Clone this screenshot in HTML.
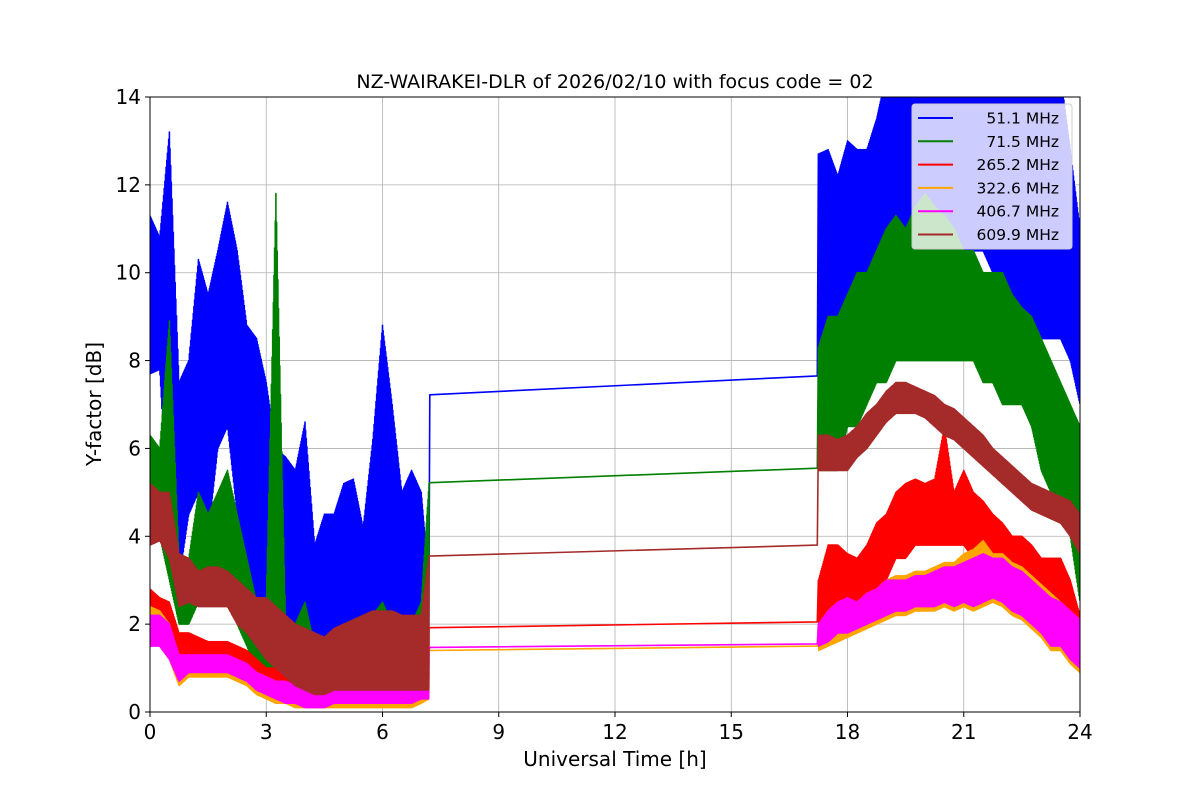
<!DOCTYPE html>
<html><head><meta charset="utf-8"><style>
body{margin:0;background:#fff;}
svg text{font-family:"DejaVu Sans","Liberation Sans",sans-serif;fill:#000;}
</style></head><body>
<svg id="chart" width="1200" height="800" viewBox="0 0 1200 800" xmlns="http://www.w3.org/2000/svg">
<defs><clipPath id="clip"><rect x="150" y="97" width="930" height="615"/></clipPath></defs>
<text x="615" y="88" font-size="19" text-anchor="middle">NZ-WAIRAKEI-DLR of 2026/02/10 with focus code = 02</text>
<g id="grid"></g>
<g id="series" clip-path="url(#clip)"></g>
<rect x="150" y="97" width="930" height="615" fill="none" stroke="#000" stroke-width="1"/>
<g id="axes"></g>
<text x="615" y="766" font-size="20" text-anchor="middle">Universal Time [h]</text>
<text transform="translate(101,404) rotate(-90)" font-size="20" text-anchor="middle">Y-factor [dB]</text>
<g id="legend"></g>
</svg>
<script>
const xTicks=[0,3,6,9,12,15,18,21,24];
const yTicks=[0,2,4,6,8,10,12,14];
const seriesNames=[" 51.1 MHz"," 71.5 MHz","265.2 MHz","322.6 MHz","406.7 MHz","609.9 MHz"];
const seriesColors=["#0000ff","#008000","#ff0000","#ffa500","#ff00ff","#a52a2a"];
const t1=[0,0.25,0.5,0.75,1,1.25,1.5,1.75,2,2.25,2.5,2.75,3,3.25,3.5,3.75,4,4.25,4.5,4.75,5,5.25,5.5,5.75,6,6.25,6.5,6.75,7,7.2];
const t2=[17.25,17.5,17.75,18,18.25,18.5,18.75,19,19.25,19.5,19.75,20,20.25,20.5,20.75,21,21.25,21.5,21.75,22,22.25,22.5,22.75,23,23.25,23.5,23.75,24];
const gapT=[7.22,17.22];
const blueHi1=[11.3,10.8,13.2,7.5,8.0,10.3,9.5,10.5,11.6,10.5,8.8,8.5,7.5,6.0,5.8,5.5,6.6,3.8,4.5,4.5,5.2,5.3,4.2,6.2,8.8,7.0,5.0,5.5,5.0,3.0];
const blueLo1=[7.7,7.8,4.0,3.0,4.5,5.0,4.0,6.0,6.5,4.5,3.5,2.5,2.0,2.0,1.5,1.2,1.2,1.2,1.3,1.5,1.5,1.6,1.5,1.8,2.0,1.5,1.5,1.2,1.5,1.0];
const blueHi2=[12.7,12.8,12.2,13.0,12.8,12.8,13.5,14.5,14.5,14.5,14.5,14.5,14.5,14.5,14.5,14.5,14.5,14.5,14.5,14.5,14.5,14.5,14.5,14.5,14.5,14.5,12.8,11.0];
const blueLo2=[6.0,7.5,8.5,8.0,8.0,8.5,9.0,9.0,9.5,9.5,10.0,10.0,10.5,10.0,10.0,10.5,10.5,10.5,10.0,9.5,9.5,9.0,9.0,8.5,8.5,8.5,8.0,7.0];
const blueGap=[7.22,7.65];
const greenHi1=[6.3,6.0,8.9,3.5,3.5,5.0,4.5,5.0,5.5,4.5,3.5,2.5,2.5,11.8,2.0,2.0,2.5,1.5,1.5,1.8,2.0,2.0,2.0,2.2,2.5,2.0,2.0,2.0,2.5,5.2];
const greenLo1=[4.0,4.0,3.0,2.0,2.0,2.5,2.5,3.0,3.0,2.0,1.5,1.0,0.8,0.8,0.6,0.5,0.4,0.4,0.5,0.6,0.6,0.6,0.6,0.6,0.6,0.6,0.6,0.5,0.5,0.6];
const greenHi2=[8.3,9.0,9.0,9.5,10.0,10.0,10.5,11.0,11.3,11.0,11.5,11.8,11.5,11.3,11.0,10.5,10.5,10.0,10.0,10.0,9.5,9.2,9.0,8.5,8.0,7.5,7.0,6.5];
const greenLo2=[5.5,5.5,5.5,6.5,6.5,7.0,7.5,7.5,8.0,8.0,8.0,8.0,8.0,8.0,8.0,8.0,8.0,7.5,7.5,7.0,7.0,7.0,6.5,5.5,5.0,4.5,4.0,2.5];
const greenGap=[5.22,5.55];
const redHi1=[2.8,2.6,2.5,1.8,1.8,1.7,1.6,1.6,1.6,1.5,1.4,1.2,1.0,1.0,0.9,0.9,0.9,0.9,0.9,1.0,1.0,1.0,1.0,1.0,1.0,1.0,1.0,1.0,1.0,1.9];
const redLo1=[1.6,1.6,1.2,1.0,1.0,1.0,1.0,1.0,1.0,0.9,0.8,0.6,0.4,0.4,0.3,0.2,0.2,0.2,0.2,0.3,0.3,0.3,0.3,0.3,0.3,0.3,0.3,0.3,0.4,0.5];
const redHi2=[3.0,3.8,3.8,3.6,3.5,3.8,4.3,4.5,5.0,5.2,5.3,5.2,5.3,6.5,5.0,5.5,5.0,4.8,4.5,4.3,4.0,4.0,3.8,3.5,3.5,3.5,3.0,2.2];
const redLo2=[2.0,2.2,2.3,2.3,2.3,2.5,2.5,3.0,3.5,3.5,3.8,3.8,3.8,3.8,3.8,3.8,3.5,3.5,3.3,3.2,3.0,2.8,2.5,2.5,2.2,2.2,1.8,1.5];
const redGap=[1.92,2.05];
const orangeHi1=[2.4,2.3,2.0,1.2,1.2,1.2,1.2,1.2,1.2,1.1,1.0,0.9,0.8,0.7,0.6,0.6,0.5,0.5,0.5,0.6,0.6,0.6,0.6,0.6,0.6,0.6,0.6,0.6,0.6,1.4];
const orangeLo1=[1.6,1.5,1.2,0.6,0.8,0.8,0.8,0.8,0.8,0.7,0.6,0.4,0.3,0.2,0.2,0.1,0.1,0.1,0.1,0.1,0.1,0.1,0.1,0.1,0.1,0.1,0.1,0.1,0.2,0.3];
const orangeHi2=[2.0,2.3,2.5,2.5,2.5,2.7,2.8,3.0,3.1,3.1,3.2,3.2,3.3,3.4,3.4,3.6,3.7,3.9,3.6,3.6,3.4,3.3,3.1,2.9,2.7,2.5,2.3,2.1];
const orangeLo2=[1.4,1.5,1.6,1.7,1.8,1.9,2.0,2.1,2.2,2.2,2.3,2.3,2.3,2.4,2.3,2.4,2.3,2.4,2.5,2.4,2.2,2.1,1.9,1.7,1.4,1.4,1.1,0.9];
const orangeGap=[1.4,1.5];
const magentaHi1=[2.2,2.2,2.0,1.3,1.3,1.3,1.3,1.3,1.3,1.2,1.1,0.9,0.8,0.7,0.7,0.6,0.6,0.5,0.5,0.6,0.6,0.6,0.7,0.7,0.7,0.7,0.7,0.7,0.7,1.4];
const magentaLo1=[1.5,1.5,1.2,0.7,0.9,0.9,0.9,0.9,0.9,0.8,0.7,0.5,0.4,0.3,0.2,0.2,0.1,0.1,0.1,0.2,0.2,0.2,0.2,0.2,0.2,0.2,0.2,0.2,0.3,0.3];
const magentaHi2=[2.0,2.3,2.5,2.6,2.5,2.7,2.8,3.0,3.0,3.0,3.1,3.1,3.2,3.3,3.3,3.4,3.5,3.6,3.5,3.5,3.3,3.2,3.0,2.8,2.6,2.5,2.3,2.1];
const magentaLo2=[1.5,1.6,1.8,1.8,1.9,2.0,2.1,2.2,2.3,2.3,2.4,2.4,2.4,2.5,2.4,2.5,2.4,2.5,2.6,2.5,2.3,2.2,2.0,1.8,1.5,1.5,1.2,1.0];
const magentaGap=[1.47,1.55];
const brownHi1=[5.2,5.0,5.0,3.6,3.5,3.2,3.3,3.3,3.2,3.0,2.8,2.6,2.6,2.4,2.2,2.0,1.9,1.8,1.7,1.9,2.0,2.1,2.2,2.3,2.3,2.3,2.2,2.2,2.2,3.55];
const brownLo1=[3.8,3.9,3.5,2.4,2.5,2.4,2.4,2.4,2.4,2.0,1.8,1.5,1.2,1.0,0.8,0.6,0.5,0.4,0.4,0.5,0.5,0.5,0.5,0.5,0.5,0.5,0.5,0.5,0.5,0.5];
const brownHi2=[6.3,6.3,6.2,6.3,6.5,6.8,7.0,7.3,7.5,7.5,7.4,7.3,7.2,7.0,6.9,6.7,6.5,6.3,6.0,5.8,5.6,5.4,5.2,5.1,5.0,4.9,4.8,4.5];
const brownLo2=[5.5,5.5,5.5,5.5,5.8,6.0,6.3,6.6,6.8,6.8,6.8,6.7,6.5,6.3,6.2,6.0,5.8,5.6,5.4,5.2,5.0,4.8,4.6,4.5,4.4,4.3,4.0,3.6];
const brownGap=[3.55,3.8];

const NS="http://www.w3.org/2000/svg";
const X0=150,X1=1080,Y0=712,Y1=97;
function xs(t){return X0+(t/24)*(X1-X0);}
function ys(v){return Y0-(v/14)*(Y0-Y1);}
function mk(tag,attrs,parent){const e=document.createElementNS(NS,tag);for(const k in attrs)e.setAttribute(k,attrs[k]);parent.appendChild(e);return e;}
const grid=document.getElementById('grid'),axes=document.getElementById('axes');
xTicks.forEach(t=>{
  const l=mk('line',{x1:xs(t),x2:xs(t),y1:Y1,y2:Y0,stroke:'#b0b0b0','stroke-width':0.8},grid);
  
  
  const tk=mk('line',{x1:xs(t),x2:xs(t),y1:Y0,y2:Y0+5,stroke:'#000'},axes);
  
  
  const tx=mk('text',{x:xs(t),y:Y0+27,'font-size':20,'text-anchor':'middle'},axes);
  tx.textContent=t;
  
  
});
yTicks.forEach(v=>{
  const l=mk('line',{x1:X0,x2:X1,y1:ys(v),y2:ys(v),stroke:'#b0b0b0','stroke-width':0.8},grid);
  
  
  const tk=mk('line',{x1:X0-5,x2:X0,y1:ys(v),y2:ys(v),stroke:'#000'},axes);
  
  
  const tx=mk('text',{x:X0-9,y:ys(v)+7,'font-size':20,'text-anchor':'end'},axes);
  tx.textContent=v;
  
  
});
function zig(ts,hi,lo){
  const pts=[];const SUB=30;
  for(let i=0;i<ts.length-1;i++){
    for(let s=0;s<SUB;s++){
      const f=s/SUB,t=ts[i]+(ts[i+1]-ts[i])*f;
      const h=hi[i]+(hi[i+1]-hi[i])*f,l=lo[i]+(lo[i+1]-lo[i])*f;
      pts.push([xs(t),ys((i*SUB+s)%2?l:h)]);
    }
  }
  pts.push([xs(ts[ts.length-1]),ys(hi[hi.length-1])]);
  return pts;
}
const all=[[blueHi1,blueLo1,blueHi2,blueLo2,blueGap],[greenHi1,greenLo1,greenHi2,greenLo2,greenGap],[redHi1,redLo1,redHi2,redLo2,redGap],[orangeHi1,orangeLo1,orangeHi2,orangeLo2,orangeGap],[magentaHi1,magentaLo1,magentaHi2,magentaLo2,magentaGap],[brownHi1,brownLo1,brownHi2,brownLo2,brownGap]];
const sg=document.getElementById('series');
all.forEach((s,k)=>{
  let pts=zig(t1,s[0],s[1]);
  pts.push([xs(gapT[0]),ys(s[4][0])]);
  pts.push([xs(gapT[1]),ys(s[4][1])]);
  pts=pts.concat(zig(t2,s[2],s[3]));
  const p=mk('polyline',{points:pts.map(p=>p[0].toFixed(1)+','+p[1].toFixed(1)).join(' '),fill:'none',stroke:seriesColors[k],'stroke-width':1.6,'stroke-linejoin':'round'},sg);
  
  
});
const lg=document.getElementById('legend');
const box=mk('rect',{x:912,y:104,width:160,height:145,rx:3,fill:'rgba(255,255,255,0.8)',stroke:'#ccc'},lg);


seriesNames.forEach((n,k)=>{
  const y=118+k*23.3;
  const l=mk('line',{x1:918,x2:953,y1:y,y2:y,stroke:seriesColors[k],'stroke-width':2},lg);
  
  
  const tx=mk('text',{x:1059,y:y+5.5,'font-size':15.5,'text-anchor':'end','xml:space':'preserve'},lg);
  tx.textContent=n;
  
  
});
</script>
</body></html>
